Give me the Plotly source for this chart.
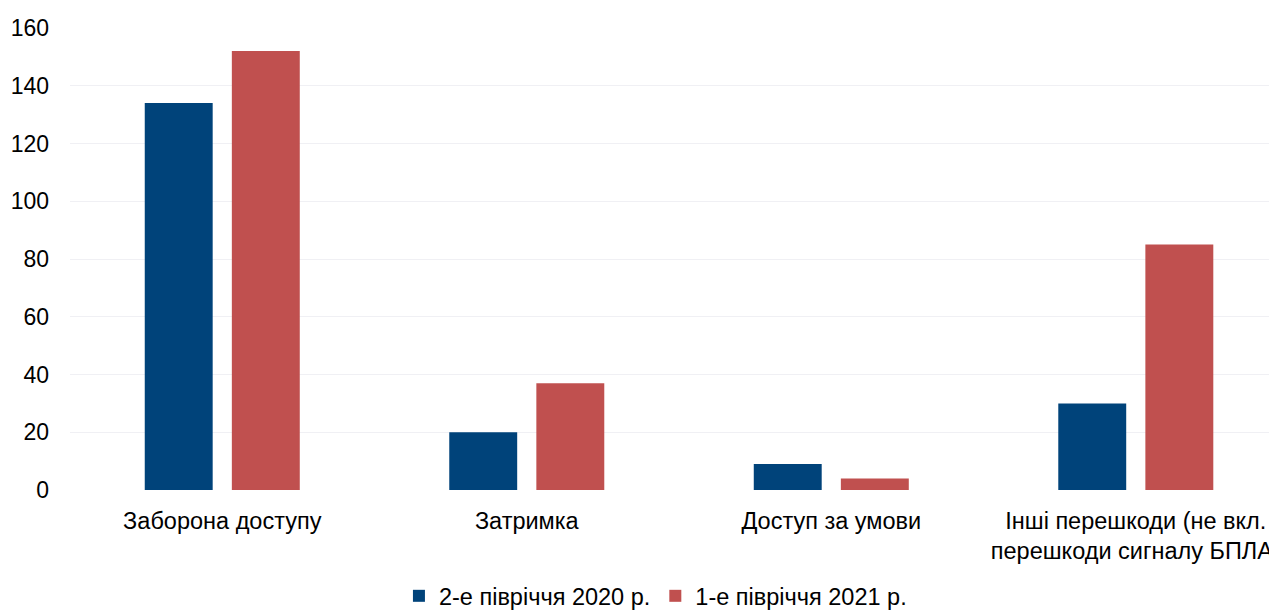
import plotly.graph_objects as go

categories = ["Заборона доступу", "Затримка", "Доступ за умови",
              "Інші перешкоди (не вкл.<br>перешкоди сигналу БПЛА)"]
series_names = ["2-е півріччя 2020 р.", "1-е півріччя 2021 р."]
values_2020 = [134, 20, 9, 30]
values_2021 = [152, 37, 4, 85]
y_ticks = [0, 20, 40, 60, 80, 100, 120, 140, 160]

colors = ["#00437A", "#C0504F"]
font_family = "Liberation Sans, Arial, sans-serif"

fig = go.Figure()
for name, vals, col in zip(series_names, [values_2020, values_2021], colors):
    fig.add_trace(go.Bar(x=categories, y=vals, name=name, marker_color=col,
                         marker_line_width=0))

fig.update_layout(
    width=1277, height=610,
    barmode="group", bargap=0.428, bargroupgap=0.22,
    plot_bgcolor="white", paper_bgcolor="white",
    margin=dict(l=62, r=0, t=20, b=128),
    font=dict(family=font_family, size=23.5, color="#000000"),
    showlegend=True,
    legend=dict(orientation="h", xref="container", x=0.507, xanchor="center",
                yref="container", y=0.036, yanchor="middle",
                font=dict(size=23.5), itemwidth=30, traceorder="normal"),
    xaxis=dict(range=[-0.5, 3.49], showgrid=False, zeroline=False, showline=False,
               ticks="", tickfont=dict(size=23.5), ticklabelstandoff=14),
    yaxis=dict(range=[0, 160], tickvals=y_ticks, showgrid=True, gridcolor="#F0F0F4",
               gridwidth=1, zeroline=False, showline=False, ticks="",
               ticklabelstandoff=20, tickfont=dict(size=23)),
)

fig.write_html("out.html")
